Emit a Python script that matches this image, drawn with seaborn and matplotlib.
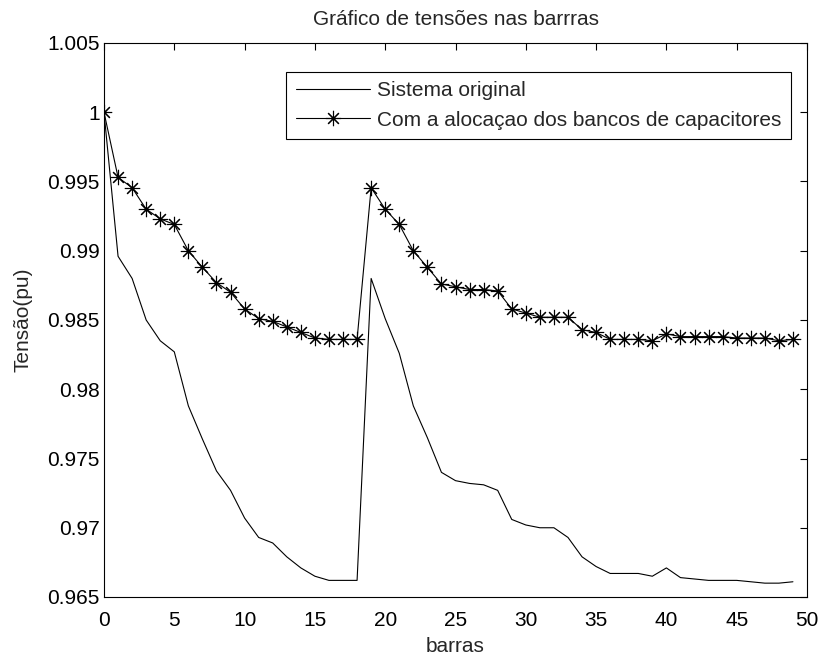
import matplotlib
matplotlib.use("Agg")
import matplotlib.pyplot as plt
import seaborn as sns
import numpy as np
import pandas as pd

barras = list(range(50))
sistema_original = [
    1.0000, 0.9896, 0.9880, 0.9850, 0.9835, 0.9827, 0.9788, 0.9764, 0.9741, 0.9727,
    0.9707, 0.9693, 0.9689, 0.9679, 0.9671, 0.9665, 0.9662, 0.9662, 0.9662, 0.9880,
    0.9851, 0.9826, 0.9788, 0.9765, 0.9740, 0.9734, 0.9732, 0.9731, 0.9727, 0.9706,
    0.9702, 0.9700, 0.9700, 0.9693, 0.9679, 0.9672, 0.9667, 0.9667, 0.9667, 0.9665,
    0.9671, 0.9664, 0.9663, 0.9662, 0.9662, 0.9662, 0.9661, 0.9660, 0.9660, 0.9661,
]
com_capacitores = [
    1.0000, 0.9953, 0.99455, 0.9930, 0.9923, 0.9919, 0.9900, 0.9888, 0.9877, 0.9870,
    0.9858, 0.9851, 0.9849, 0.9845, 0.9841, 0.9837, 0.9836, 0.9836, 0.9836, 0.99455,
    0.9930, 0.9919, 0.9900, 0.9888, 0.9876, 0.9874, 0.9872, 0.9872, 0.9871, 0.9858,
    0.9855, 0.9852, 0.9852, 0.9852, 0.9843, 0.9841, 0.9836, 0.9836, 0.9836, 0.9835,
    0.9840, 0.9838, 0.9838, 0.9838, 0.9838, 0.9837, 0.9837, 0.9837, 0.9835, 0.9836,
]
labels = ["Sistema original", "Com a alocaçao dos bancos de capacitores"]
xticks = [0, 5, 10, 15, 20, 25, 30, 35, 40, 45, 50]
yticks = [0.965, 0.97, 0.975, 0.98, 0.985, 0.99, 0.995, 1.0, 1.005]
ytick_labels = ["0.965", "0.97", "0.975", "0.98", "0.985", "0.99", "0.995", "1", "1.005"]

sns.set_style("white")
plt.rcParams["font.family"] = ["Liberation Sans", "DejaVu Sans"]
FS = 15

fig = plt.figure(figsize=(8.22, 6.55), dpi=100)
ax = fig.add_axes([104 / 822, 1 - 597 / 655, 703 / 822, 554 / 655])

df = pd.DataFrame({"barras": barras, "orig": sistema_original, "cap": com_capacitores})
sns.lineplot(data=df, x="barras", y="orig", ax=ax, color="black", linewidth=0.8,
             label=labels[0])
sns.lineplot(data=df, x="barras", y="cap", ax=ax, color="black", linewidth=0.8,
             marker=(8, 2, 0), markersize=11, markeredgewidth=0.8,
             markeredgecolor="black", label=labels[1])

ax.set_xlim(0, 50)
ax.set_ylim(0.965, 1.005)
ax.set_xticks(xticks)
ax.set_xticklabels([str(t) for t in xticks])
ax.set_yticks(yticks)
ax.set_yticklabels(ytick_labels)
ax.tick_params(direction="in", length=5, width=0.8, top=True, right=True,
               labelsize=FS, colors="black")
ax.tick_params(axis="y", pad=3)
ax.tick_params(axis="x", pad=10)
for s in ax.spines.values():
    s.set_visible(True)
    s.set_color("black")
    s.set_linewidth(0.8)

ax.set_xlabel("barras", fontsize=FS, labelpad=5)
ax.set_ylabel("Tensão(pu)", fontsize=FS, labelpad=11)
ax.set_title("Gráfico de tensões nas barrras", fontsize=FS, pad=13)

leg = ax.legend(loc="upper right", bbox_to_anchor=(0.977, 0.948), borderaxespad=0,
                fancybox=False, edgecolor="black", framealpha=1, fontsize=FS,
                handlelength=3.55, handletextpad=0.35, borderpad=0.45, labelspacing=0.5)
leg.get_frame().set_linewidth(0.8)

fig.savefig("out.png", dpi=100, facecolor="white")
